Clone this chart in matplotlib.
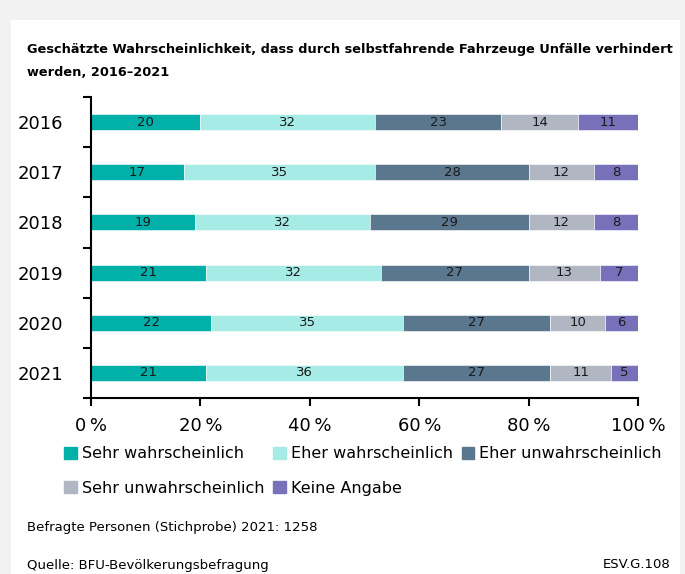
import numpy as np
import matplotlib.pyplot as plt
from matplotlib.patches import Patch

plt.rcParams['font.family'] = ['DejaVu Sans Condensed', 'DejaVu Sans']

years = ['2016', '2017', '2018', '2019', '2020', '2021']
categories = ['Sehr wahrscheinlich', 'Eher wahrscheinlich', 'Eher unwahrscheinlich',
              'Sehr unwahrscheinlich', 'Keine Angabe']
sehr_wahr = [20, 17, 19, 21, 22, 21]
eher_wahr = [32, 35, 32, 32, 35, 36]
eher_unwahr = [23, 28, 29, 27, 27, 27]
sehr_unwahr = [14, 12, 12, 13, 10, 11]
keine = [11, 8, 8, 7, 6, 5]
colors = ['#00b0a9', '#a6ebe5', '#5b778e', '#b0b7c3', '#7871ba']

series = [sehr_wahr, eher_wahr, eher_unwahr, sehr_unwahr, keine]

fig = plt.figure(figsize=(6.85, 5.74), dpi=100, facecolor='#f2f2f2')
# white panel behind everything
fig.patches.append(plt.Rectangle((11 / 685, 0), 669 / 685, 1 - 20 / 574,
                                 transform=fig.transFigure, facecolor='white',
                                 edgecolor='none', zorder=-10))

ax = fig.add_axes([91 / 685, 1 - 398 / 574, 547 / 685, 301 / 574])
ax.set_facecolor('white')

y = np.arange(len(years))
left = np.zeros(len(years))
for vals, col, name in zip(series, colors, categories):
    bars = ax.barh(y, vals, left=left, height=0.32, color=col, edgecolor='white',
                   linewidth=0.4, label=name)
    ax.bar_label(bars, labels=[str(v) for v in vals], label_type='center',
                 fontsize=9.5, color='#1a1a1a')
    left = left + np.array(vals)

ax.set_ylim(5.5, -0.5)
ax.set_xlim(0, 100)
ax.set_yticks(y)
ax.set_yticklabels(years, fontsize=13)
ax.set_yticks(np.arange(-0.5, 6, 1), minor=True)
ax.tick_params(axis='y', which='major', length=0, pad=20)
ax.tick_params(axis='y', which='minor', length=6, width=1.5, direction='out')
ax.set_xticks(np.arange(0, 101, 20))
ax.set_xticklabels([f'{v}\u2009%' for v in range(0, 101, 20)], fontsize=13)
ax.tick_params(axis='x', length=6, width=1.5, pad=8)
for s in ['top', 'right']:
    ax.spines[s].set_visible(False)
ax.spines['left'].set_linewidth(1.5)
ax.spines['bottom'].set_linewidth(1.5)

fig.text(27 / 685, 1 - 43 / 574,
         'Geschätzte Wahrscheinlichkeit, dass durch selbstfahrende Fahrzeuge Unfälle verhindert\nwerden, 2016–2021',
         fontsize=9.3, fontweight='bold', va='top', ha='left', linespacing=2.0)

handles = [Patch(color=c) for c in colors]
order = [0, 3, 1, 4, 2]
fig.legend([handles[i] for i in order], [categories[i] for i in order],
           loc='upper left', bbox_to_anchor=(58 / 685, 1 - 500 / 574, 610 / 685, 60 / 574),
           mode='expand', ncol=3, borderaxespad=0,
           frameon=False, fontsize=11.5, handlelength=0.8, handleheight=0.8,
           handletextpad=0.3, columnspacing=1.0, labelspacing=1.2)

fig.text(27 / 685, 1 - 527 / 574, 'Befragte Personen (Stichprobe) 2021: 1258',
         fontsize=9.5, va='center')
fig.text(27 / 685, 1 - 565 / 574, 'Quelle: BFU-Bevölkerungsbefragung',
         fontsize=9.5, va='center')
fig.text(671 / 685, 1 - 565 / 574, 'ESV.G.108', fontsize=9.5, va='center', ha='right')

fig.savefig('out.png', dpi=100, facecolor=fig.get_facecolor())
